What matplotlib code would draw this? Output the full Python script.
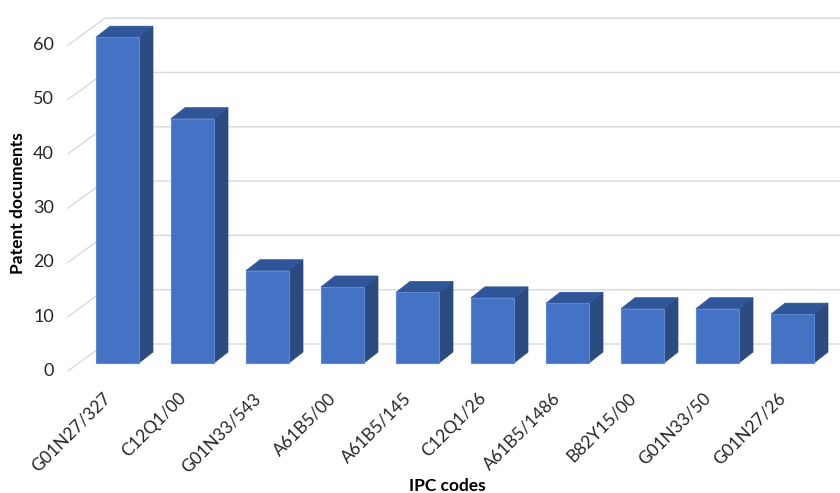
import matplotlib.pyplot as plt
from matplotlib.patches import Polygon

# IPC codes and number of patent documents for each
codes = ["G01N27/327", "C12Q1/00", "G01N33/543", "A61B5/00", "A61B5/145",
         "C12Q1/26", "A61B5/1486", "B82Y15/00", "G01N33/50", "G01N27/26"]
counts = [60, 45, 17, 14, 13, 12, 11, 10, 10, 9]
y_ticks = [0, 10, 20, 30, 40, 50, 60]

FRONT = "#4472C4"
SIDE = "#2B4A80"
TOP = "#30569A"
GRID = "#D9D9D9"

plt.rcParams['font.family'] = ['Lato', 'DejaVu Sans']

W, H = 840, 493
fig = plt.figure(figsize=(W / 100, H / 100), dpi=100)
ax = fig.add_axes([0, 0, 1, 1])

# pixel scale of one category step and of one unit on the value axis
px_cat = 75.0
px_val = 5.43
x0_px, y0_px = 117.5, 363.0
ax.set_xlim(-x0_px / px_cat, (W - x0_px) / px_cat)
ax.set_ylim(-(H - y0_px) / px_val, y0_px / px_val)
ax.axis("off")

def px_x(p):
    return p / px_cat

def px_y(p):
    return p / px_val

# 3d depth of the bars and walls
bw = px_x(43)
ddx, ddy = px_x(14), px_y(11)
wall_front_x = -1 + px_x(68 - 42.5)
wall_back_x = -1 + px_x(105 - 42.5)
front_off = -px_y(8)
back_off = px_y(19)
right_x = px_x(W - x0_px)

# gridlines: diagonal on the side wall, horizontal on the back wall
for v in y_ticks:
    ax.plot([wall_front_x, wall_back_x, right_x],
            [v + front_off, v + back_off, v + back_off],
            color=GRID, lw=1.0, zorder=1)
    ax.text(wall_front_x - px_x(14), v + front_off, str(v), ha="right",
            va="center", fontsize=13, color="#262626")

for i, c in enumerate(counts):
    l, r = i - bw / 2, i + bw / 2
    front = [(l, 0), (r, 0), (r, c), (l, c)]
    side = [(r, 0), (r + ddx, ddy), (r + ddx, c + ddy), (r, c)]
    top = [(l, c), (r, c), (r + ddx, c + ddy), (l + ddx, c + ddy)]
    ax.add_patch(Polygon(side, closed=True, fc=SIDE, ec=SIDE, lw=0.5, zorder=3))
    ax.add_patch(Polygon(top, closed=True, fc=TOP, ec=TOP, lw=0.5, zorder=3))
    ax.add_patch(Polygon(front, closed=True, fc=FRONT, ec="#5B86D2", lw=0.8, zorder=4))

# rotated category labels
for i, code in enumerate(codes):
    ax.text(i - px_x(15), -px_y(27), code, rotation=45, rotation_mode="anchor",
            ha="right", va="top", fontsize=12.5, color="#262626")

fig.text(18 / W, 1 - 203 / H, "Patent documents", rotation=90, ha="center",
         va="center", fontsize=12.5, fontweight="bold", color="#000000")
fig.text(447 / W, 1 - 486 / H, "IPC codes", ha="center", va="center",
         fontsize=12.5, fontweight="bold", color="#000000")

fig.savefig("out.png", dpi=100)
